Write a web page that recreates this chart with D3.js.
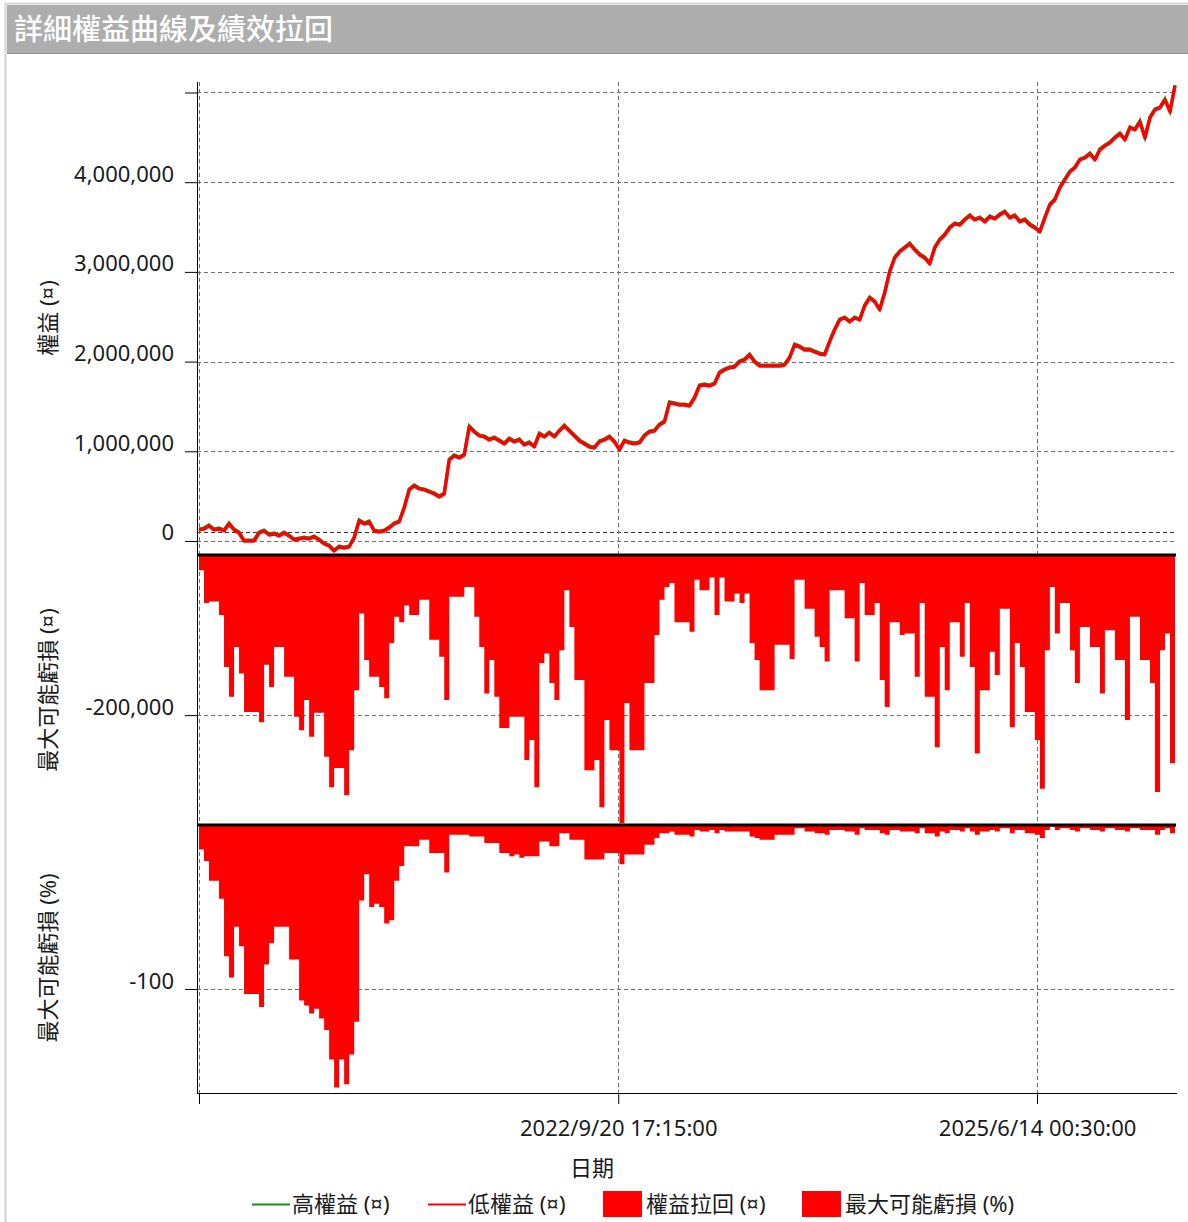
<!DOCTYPE html>
<html>
<head>
<meta charset="utf-8">
<script src="https://cdn.jsdelivr.net/npm/d3@7"></script>
<style>
  body { margin: 0; background: #fff; }
  text { font-family: "Noto Sans", "Noto Sans CJK TC", sans-serif; fill: #1a1a1a; }
</style>
</head>
<body>
<div id="chart"></div>
<script>
// time span of the report
var startDate = new Date(2019, 11, 27, 10, 0);
var endDate = new Date(2026, 4, 8, 12, 0);
var dateTicks = [new Date(2019, 11, 27, 10, 0), new Date(2022, 8, 20, 17, 15), new Date(2025, 5, 14, 0, 30)];
var dateTickLabels = ["", "2022/9/20 17:15:00", "2025/6/14 00:30:00"];

// equity (thousands), evenly spaced over the span
var equity = [123, 134, 167, 123, 134, 111, 190, 123, 89, 0, 0, 0, 89, 111, 67, 78, 56, 89, 56, 11,
  22, 33, 22, 45, 11, -33, -56, -111, -67, -78, -67, 33, 223, 190, 212, 111, 100, 111, 145, 190,
  212, 368, 569, 613, 580, 569, 546, 524, 491, 524, 903, 948, 925, 959, 1271, 1215, 1171, 1160, 1126, 1148,
  1115, 1082, 1137, 1104, 1126, 1070, 1093, 1048, 1193, 1160, 1204, 1160, 1226, 1282, 1226, 1171, 1115, 1082, 1048, 1037,
  1104, 1126, 1160, 1104, 1015, 1115, 1093, 1082, 1093, 1171, 1215, 1226, 1293, 1327, 1539, 1528, 1516, 1516, 1505, 1594,
  1728, 1739, 1728, 1751, 1873, 1907, 1929, 1940, 1996, 2018, 2074, 1996, 1951, 1951, 1951, 1951, 1951, 1962, 2040, 2185,
  2163, 2130, 2130, 2107, 2085, 2074, 2219, 2353, 2464, 2486, 2442, 2486, 2464, 2620, 2709, 2665, 2576, 2765, 3000, 3155,
  3222, 3267, 3311, 3245, 3189, 3155, 3089, 3267, 3356, 3412, 3490, 3535, 3523, 3579, 3624, 3579, 3601, 3557, 3613, 3590,
  3635, 3668, 3601, 3624, 3557, 3579, 3523, 3490, 3445, 3601, 3746, 3802, 3936, 4025, 4114, 4159, 4248, 4270, 4315, 4248,
  4360, 4404, 4438, 4493, 4538, 4471, 4605, 4583, 4672, 4493, 4716, 4806, 4828, 4917, 4783, 5073];

// max potential loss (thousands)
var ddAmount = [19, 60, 58, 58, 75, 140, 177, 115, 148, 196, 196, 196, 209, 137, 165, 115, 115, 152, 152, 202,
  219, 181, 227, 197, 197, 252, 290, 266, 266, 300, 244, 169, 73, 131, 152, 152, 165, 179, 110, 77,
  84, 63, 75, 75, 56, 56, 106, 106, 127, 181, 52, 52, 52, 40, 40, 77, 115, 173, 131, 177,
  216, 216, 202, 202, 202, 256, 231, 290, 135, 123, 160, 181, 119, 44, 90, 156, 156, 269, 269, 256,
  315, 206, 244, 244, 335, 185, 244, 244, 244, 160, 160, 100, 56, 40, 35, 84, 84, 84, 96, 31,
  44, 44, 28, 75, 28, 58, 58, 48, 60, 48, 110, 131, 169, 169, 169, 112, 112, 112, 130, 31,
  31, 67, 67, 102, 115, 133, 44, 44, 44, 79, 79, 133, 35, 75, 75, 60, 156, 190, 84, 84,
  100, 98, 98, 152, 60, 177, 177, 240, 115, 169, 84, 84, 127, 60, 140, 248, 169, 169, 121, 150,
  67, 67, 215, 110, 140, 196, 196, 231, 292, 119, 40, 98, 60, 60, 119, 160, 90, 90, 115, 115,
  173, 94, 94, 131, 131, 206, 77, 77, 131, 131, 160, 296, 119, 98, 260, 119];

// max potential loss (%)
var ddPercent = [-15, -22, -34, -34, -45, -80, -93, -62, -74, -103, -103, -103, -111, -85, -72, -62, -62, -62, -82, -82,
  -107, -110, -115, -112, -118, -125, -143, -160, -143, -158, -140, -120, -46, -30, -50, -48, -50, -60, -58, -34,
  -25, -13, -13, -13, -9, -9, -17, -17, -17, -29, -6, -6, -6, -6, -7, -7, -7, -11, -11, -11,
  -17, -17, -19, -18, -20, -19, -19, -19, -10, -10, -13, -13, -5, -5, -9, -9, -9, -21, -21, -21,
  -21, -17, -17, -17, -24, -18, -18, -18, -18, -12, -12, -8, -5, -5, -4, -6, -6, -6, -7, -3,
  -4, -4, -3, -5, -3, -4, -4, -4, -4, -4, -7, -8, -9, -9, -9, -6, -6, -6, -6, -2,
  -2, -4, -4, -5, -5, -6, -3, -3, -3, -4, -4, -6, -2, -3, -3, -3, -5, -6, -3, -3,
  -4, -4, -4, -5, -2, -5, -5, -7, -4, -5, -3, -3, -4, -2, -4, -6, -4, -4, -3, -4,
  -2, -2, -5, -3, -3, -5, -5, -6, -8, -3, -1, -3, -2, -2, -3, -4, -2, -2, -3, -3,
  -4, -2, -2, -3, -3, -4, -2, -2, -3, -3, -3, -6, -3, -2, -5, -3];

var initialCapital = 100000;
var equityTicks = [0, 1000000, 2000000, 3000000, 4000000, 5000000];
var equityTickLabels = ["0", "1,000,000", "2,000,000", "3,000,000", "4,000,000", ""];
var ddAmountTicks = [-200000];
var ddAmountTickLabels = ["-200,000"];
var ddPercentTicks = [-100];
var ddPercentTickLabels = ["-100"];
var legendNames = ["高權益 (¤)", "低權益 (¤)", "權益拉回 (¤)", "最大可能虧損 (%)"];

var w = 1188, h = 1222;
var left = 197, right = 1175;

var svg = d3.select("#chart").append("svg")
  .attr("width", w)
  .attr("height", h);

// frame + title bar
svg.append("rect").attr("x", 5.5).attr("y", 3.5).attr("width", w).attr("height", h)
  .attr("fill", "none").attr("stroke", "#d4d4d4").attr("stroke-width", 2);
svg.append("rect").attr("x", 7).attr("y", 5).attr("width", w - 7).attr("height", 48).attr("fill", "#adadad");
svg.append("line").attr("x1", 7).attr("x2", w).attr("y1", 53.5).attr("y2", 53.5).attr("stroke", "#8a8a8a");
svg.append("text").attr("x", 14).attr("y", 40).style("font-size", "29px").style("fill", "#fff")
  .style("font-family", "'Noto Sans CJK TC', sans-serif").style("font-weight", "500")
  .text("詳細權益曲線及績效拉回");

var x = d3.scaleTime().domain([startDate, endDate]).range([199, right]);

var yEq = d3.scaleLinear().domain([-134000, 5117000]).range([553, 82]);
var yDd = d3.scaleLinear().domain([-336000, 0]).range([824, 555]);
var yPct = d3.scaleLinear().domain([-163.4, 0]).range([1093, 825]);

function dateAt(n) {
  return d3.scaleLinear().domain([0, n - 1]).range([startDate.getTime(), endDate.getTime()]);
}

// horizontal grid + y axes
function yAxis(scale, ticks, labels) {
  ticks.forEach(function (t) {
    svg.append("line")
      .attr("x1", left).attr("x2", right)
      .attr("y1", Math.round(scale(t)) + 0.5).attr("y2", Math.round(scale(t)) + 0.5)
      .attr("stroke", "#6e6e6e").attr("stroke-dasharray", "4,3");
  });
  var g = svg.append("g").attr("transform", "translate(" + left + ",0)")
    .call(d3.axisLeft(scale).tickValues(ticks)
      .tickFormat(function (d, i) { return labels[i]; })
      .tickSize(12).tickPadding(11));
  g.select(".domain").remove();
  g.selectAll("line").attr("stroke", "#000");
  g.selectAll("text").attr("dy", "0").attr("y", -1)
    .style("font-size", "22px").style("fill", "#1a1a1a");
}

// initial capital reference
svg.append("line")
  .attr("x1", left).attr("x2", right)
  .attr("y1", Math.round(yEq(initialCapital)) + 0.5).attr("y2", Math.round(yEq(initialCapital)) + 0.5)
  .attr("stroke", "#333").attr("stroke-dasharray", "4,3");

yAxis(yEq, equityTicks, equityTickLabels);
yAxis(yDd, ddAmountTicks, ddAmountTickLabels);
yAxis(yPct, ddPercentTicks, ddPercentTickLabels);

// vertical grid
dateTicks.forEach(function (d) {
  svg.append("line")
    .attr("x1", Math.round(x(d)) + 0.5).attr("x2", Math.round(x(d)) + 0.5)
    .attr("y1", 82).attr("y2", 1093)
    .attr("stroke", "#6e6e6e").attr("stroke-dasharray", "4,3");
});

// clip regions
var defs = svg.append("defs");
[["clipEq", 82, 553], ["clipDd", 555, 824], ["clipPct", 825, 1093]].forEach(function (c) {
  defs.append("clipPath").attr("id", c[0]).append("rect")
    .attr("x", left).attr("y", c[1]).attr("width", right - left + 2).attr("height", c[2] - c[1]);
});

// equity curves
var eqDate = dateAt(equity.length);
var eqLine = d3.line()
  .x(function (d, i) { return x(eqDate(i)); })
  .y(function (d) { return yEq(d * 1000); });

svg.append("path").datum(equity)
  .attr("clip-path", "url(#clipEq)")
  .attr("d", eqLine)
  .attr("fill", "none").attr("stroke", "#1f8a1f").attr("stroke-width", 3.2)
  .attr("transform", "translate(0,-1)");
svg.append("path").datum(equity)
  .attr("clip-path", "url(#clipEq)")
  .attr("d", eqLine)
  .attr("fill", "none").attr("stroke", "#ff0000").attr("stroke-width", 3.4)
  .attr("stroke-linejoin", "round");

// max potential loss (amount)
var ddDate = dateAt(ddAmount.length);
svg.append("path").datum(ddAmount)
  .attr("clip-path", "url(#clipDd)")
  .attr("d", d3.area()
    .curve(d3.curveStepAfter)
    .x(function (d, i) { return x(ddDate(i)); })
    .y0(yDd(0))
    .y1(function (d) { return yDd(-d * 1000); }))
  .attr("fill", "#ff0000");

// max potential loss (%)
var pctDate = dateAt(ddPercent.length);
svg.append("path").datum(ddPercent)
  .attr("clip-path", "url(#clipPct)")
  .attr("d", d3.area()
    .curve(d3.curveStepAfter)
    .x(function (d, i) { return x(pctDate(i)); })
    .y0(yPct(0))
    .y1(function (d) { return yPct(d); }))
  .attr("fill", "#ff0000");

// panel zero lines
[yDd(0), yPct(0)].forEach(function (yy) {
  svg.append("line").attr("x1", left).attr("x2", right + 1)
    .attr("y1", yy).attr("y2", yy).attr("stroke", "#000").attr("stroke-width", 3);
});

// axis lines
svg.append("line").attr("x1", left + 0.5).attr("x2", left + 0.5).attr("y1", 82).attr("y2", 1093)
  .attr("stroke", "#000");

var gx = svg.append("g").attr("transform", "translate(0,1093)")
  .call(d3.axisBottom(x).tickValues(dateTicks)
    .tickFormat(function (d, i) { return dateTickLabels[i]; })
    .tickSize(11).tickPadding(16).tickSizeOuter(0));
gx.select(".domain").attr("stroke", "#000");
gx.selectAll("line").attr("stroke", "#000");
gx.selectAll("text").style("font-size", "22px").style("fill", "#1a1a1a");
svg.append("line").attr("x1", left).attr("x2", right + 2).attr("y1", 1093.5).attr("y2", 1093.5).attr("stroke", "#000");

// axis titles
function vTitle(txt, cx, cy) {
  svg.append("text")
    .attr("transform", "translate(" + cx + "," + cy + ") rotate(-90)")
    .attr("text-anchor", "middle")
    .style("font-size", "22px")
    .text(txt);
}
vTitle("權益 (¤)", 56, 318);
vTitle("最大可能虧損 (¤)", 56, 690);
vTitle("最大可能虧損 (%)", 56, 958);

svg.append("text").attr("x", 592).attr("y", 1176).attr("text-anchor", "middle")
  .style("font-size", "22px").text("日期");

// legend
var legend = svg.append("g").attr("transform", "translate(0,1204)");
var legendX = [252, 428, 603, 802];
legendNames.forEach(function (name, i) {
  var g = legend.append("g").attr("transform", "translate(" + legendX[i] + ",0)");
  if (i < 2) {
    g.append("line").attr("x1", 0).attr("x2", 38).attr("y1", 0.5).attr("y2", 0.5)
      .attr("stroke", i === 0 ? "#1f8a1f" : "#ff0000").attr("stroke-width", 2);
    g.append("text").attr("x", 40).attr("y", 8).style("font-size", "22px").text(name);
  } else {
    g.append("rect").attr("x", 0).attr("y", -13).attr("width", 39).attr("height", 26).attr("fill", "#ff0000");
    g.append("text").attr("x", 43).attr("y", 8).style("font-size", "22px").text(name);
  }
});
</script>
</body>
</html>
